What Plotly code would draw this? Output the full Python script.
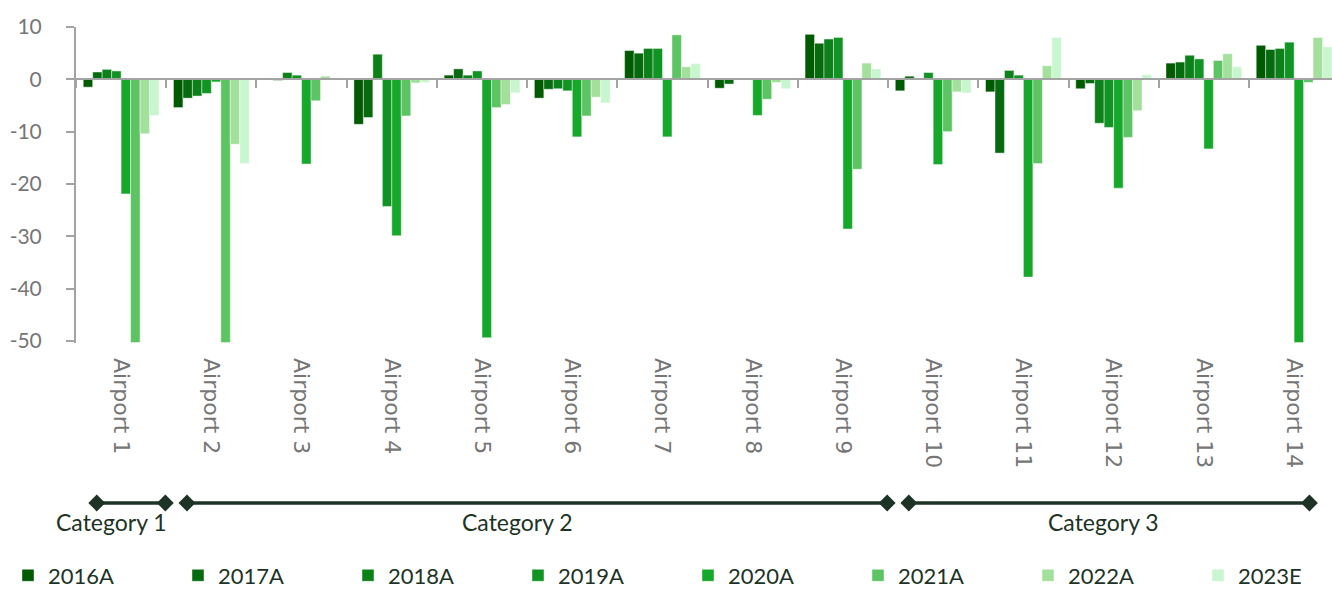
import plotly.graph_objects as go

airports = ["Airport 1", "Airport 2", "Airport 3", "Airport 4", "Airport 5", "Airport 6", "Airport 7",
            "Airport 8", "Airport 9", "Airport 10", "Airport 11", "Airport 12", "Airport 13", "Airport 14"]
years = ["2016A", "2017A", "2018A", "2019A", "2020A", "2021A", "2022A", "2023E"]

v2016 = [-1.5, -5.4, -0.1, -8.6, 0.8, -3.6, 5.5, -1.7, 8.6, -2.2, -2.4, -1.8, 3.1, 6.5]
v2017 = [1.4, -3.6, -0.2, -7.3, 2.0, -1.9, 5.0, -0.9, 6.9, 0.6, -14.1, -0.8, 3.3, 5.7]
v2018 = [1.9, -3.2, 1.3, 4.8, 0.8, -1.8, 5.9, -0.1, 7.7, -0.1, 1.7, -8.4, 4.6, 5.9]
v2019 = [1.6, -2.7, 0.8, -24.3, 1.6, -2.2, 5.9, -0.1, 8.0, 1.3, 0.8, -9.2, 3.9, 7.1]
v2020 = [-21.9, -0.5, -16.2, -29.9, -49.4, -11.0, -11.0, -6.9, -28.6, -16.3, -37.8, -20.8, -13.3, -50.3]
v2021 = [-50.3, -50.3, -4.1, -7.0, -5.4, -7.0, 8.5, -3.8, -17.2, -10.0, -16.1, -11.1, 3.6, -0.6]
v2022 = [-10.4, -12.4, 0.6, -0.7, -4.8, -3.4, 2.4, -0.6, 3.1, -2.4, 2.6, -6.0, 4.9, 8.0]
v2023 = [-6.9, -16.1, 0.0, -0.6, -2.6, -4.5, 3.0, -1.8, 2.0, -2.6, 8.0, 0.9, 2.4, 6.2]
series = [v2016, v2017, v2018, v2019, v2020, v2021, v2022, v2023]

colors = ["#005a00", "#066b0f", "#0c8019", "#109424", "#16a82a", "#5cc462", "#a3e09b", "#c8f6ce"]

category_names = ["Category 1", "Category 2", "Category 3"]
category_members = [["Airport 1"],
                    ["Airport 2", "Airport 3", "Airport 4", "Airport 5", "Airport 6", "Airport 7", "Airport 8", "Airport 9"],
                    ["Airport 10", "Airport 11", "Airport 12", "Airport 13", "Airport 14"]]

y_ticks = [10, 0, -10, -20, -30, -40, -50]
y_tick_labels = ["10", "0", "-10", "-20", "-30", "-40", "-50"]

# layout constants
W, H = 1332, 590
M_T, M_B, M_L, M_R = 27, 0, 76, 0
PW = W - M_L - M_R
PH = H - M_T - M_B
Y_MIN, Y_MAX = -50.4, 10
X_MIN, X_MAX = -0.5, 13.42
BOTTOM_PX = 247
D = BOTTOM_PX / PH
LEG_LEFT_PX, LEG_STEP_PX, LEG_Y_PX = 8, 170, 575.5

GRAY_LINE = "#a3a3a3"
GRAY_TXT = "#767676"
DARK = "#1d3326"

fig = go.Figure()
legend_layouts = {}
for i, (name, vals, col) in enumerate(zip(years, series, colors)):
    lname = "legend" if i == 0 else f"legend{i + 1}"
    fig.add_trace(go.Bar(
        name=name, x=airports, y=vals, marker_color=col,
        marker_line=dict(color="rgba(255,255,255,0.55)", width=0.8),
        legend=lname, hoverinfo="skip"))
    legend_layouts[lname] = dict(
        orientation="h", x=(LEG_LEFT_PX + i * LEG_STEP_PX - M_L) / PW, xanchor="left",
        y=(H - LEG_Y_PX - M_B) / PH, yanchor="middle",
        font=dict(family="Lato", size=22, color=DARK), bgcolor="rgba(0,0,0,0)")

# zero-line axis with ticks at category boundaries
fig.add_trace(go.Scatter(x=[], y=[], xaxis="x2", yaxis="y", showlegend=False, hoverinfo="skip"))

# category brackets
for cname, members in zip(category_names, category_members):
    i0 = airports.index(members[0])
    i1 = airports.index(members[-1])
    x0 = i0 - 0.27
    x1 = min(i1 + 0.49, X_MAX - 0.25)
    fig.add_trace(go.Scatter(
        x=[x0, x1], y=[87, 87], xaxis="x3", yaxis="y2", mode="lines+markers",
        line=dict(color=DARK, width=3.5), marker=dict(symbol="diamond", size=13, color=DARK),
        showlegend=False, hoverinfo="skip"))
    fig.add_annotation(x=(i0 + i1) / 2, y=68, xref="x3", yref="y2", text=cname, showarrow=False,
                       xshift=-10, font=dict(family="Lato", size=23, color=DARK))

zero_pos = D + (0 - Y_MIN) / (Y_MAX - Y_MIN) * (1 - D)

fig.update_layout(
    width=W, height=H,
    margin=dict(t=M_T, b=M_B, l=M_L, r=M_R, autoexpand=False),
    paper_bgcolor="white", plot_bgcolor="white",
    barmode="group", bargap=0.16, bargroupgap=0,
    xaxis=dict(type="category", categoryorder="array", categoryarray=airports,
               range=[X_MIN, X_MAX], showline=False, ticks="", showgrid=False,
               tickangle=90, ticklabelstandoff=14,
               tickfont=dict(family="DejaVu Sans", size=22, color=GRAY_TXT)),
    xaxis2=dict(overlaying="x", anchor="free", position=zero_pos, range=[X_MIN, X_MAX],
                tickvals=[i - 0.5 for i in range(len(airports) + 1)], ticks="outside",
                ticklen=8, tickwidth=2, tickcolor=GRAY_LINE, showline=True, linecolor=GRAY_LINE,
                linewidth=2, showticklabels=False, showgrid=False, zeroline=False),
    xaxis3=dict(anchor="y2", domain=[0, 1], range=[X_MIN, X_MAX], visible=False),
    yaxis=dict(domain=[D, 1], range=[Y_MIN, Y_MAX], tickvals=y_ticks, ticktext=y_tick_labels,
               ticks="outside", ticklen=8, tickwidth=2, tickcolor=GRAY_LINE, showline=True,
               linecolor=GRAY_LINE, linewidth=2, showgrid=False, zeroline=False,
               ticklabelstandoff=20, tickfont=dict(family="Lato", size=21, color=GRAY_TXT)),
    yaxis2=dict(domain=[0, D], range=[0, BOTTOM_PX], visible=False),
    showlegend=True,
    hovermode=False,
    **legend_layouts,
)

fig.write_html("out.html", config={"displayModeBar": False, "staticPlot": True},
               post_script="document.body.style.margin='0';document.body.style.overflow='hidden';")
